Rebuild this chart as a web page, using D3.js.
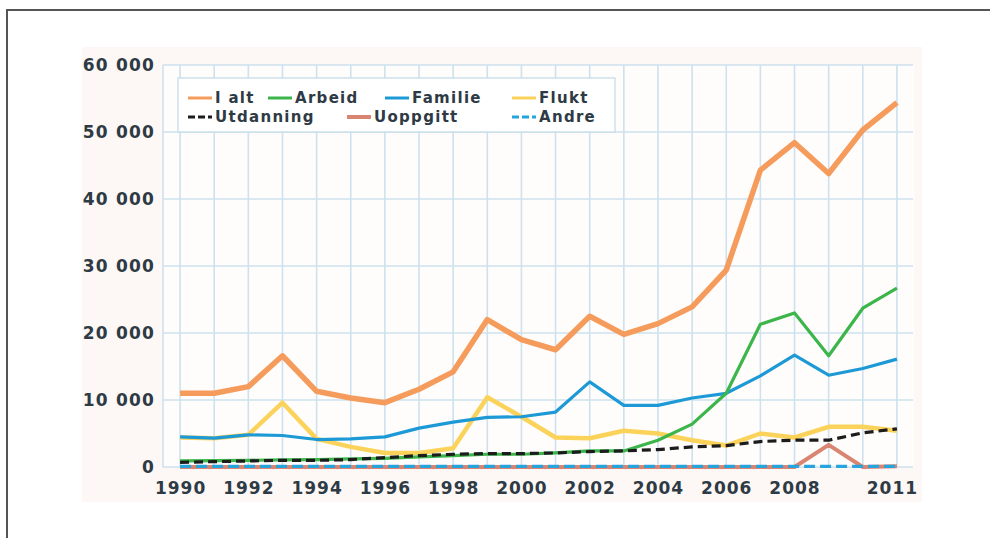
<!DOCTYPE html>
<html>
<head>
<meta charset="utf-8">
<script src="https://cdn.jsdelivr.net/npm/d3@7"></script>
<style>
  body { margin: 0; background: #fff; }
  svg text { font-family: "DejaVu Sans", sans-serif; font-weight: bold; fill: #2e3a44; }
</style>
</head>
<body>
<div class="chart"></div>
<script>
// Innvandring til Norge etter grunn, 1990-2011

var w = 990, h = 538;

// data
var years = d3.range(1990, 2012);
var iAlt      = [11000, 11000, 12000, 16600, 11300, 10300, 9600, 11600, 14200, 22000, 19000, 17500, 22500, 19800, 21400, 23900, 29400, 44300, 48400, 43800, 50300, 54400];
var arbeid    = [900, 950, 1000, 1050, 1100, 1200, 1300, 1500, 1700, 1900, 1900, 2100, 2400, 2400, 4000, 6400, 11000, 21300, 23000, 16600, 23700, 26700];
var familie   = [4500, 4300, 4800, 4700, 4100, 4200, 4500, 5800, 6700, 7400, 7500, 8200, 12700, 9200, 9200, 10300, 11000, 13600, 16700, 13700, 14700, 16100];
var flukt     = [4400, 4300, 4800, 9600, 4200, 3000, 2100, 2100, 2800, 10400, 7500, 4400, 4300, 5400, 5000, 4000, 3200, 5000, 4400, 6000, 6000, 5400];
var utdanning = [700, 800, 900, 1000, 1000, 1100, 1400, 1700, 1900, 2000, 2000, 2100, 2300, 2400, 2600, 3000, 3200, 3800, 4000, 4000, 5100, 5700];
var uoppgitt  = [0, 0, 0, 0, 0, 0, 0, 0, 0, 0, 0, 0, 0, 0, 0, 0, 0, 0, 0, 3300, 0, 100];
var andre     = [100, 100, 100, 100, 100, 100, 100, 100, 100, 100, 100, 100, 100, 100, 100, 100, 100, 100, 100, 100, 100, 100];

var yTicks = [0, 10000, 20000, 30000, 40000, 50000, 60000];
var xTicks = [1990, 1992, 1994, 1996, 1998, 2000, 2002, 2004, 2006, 2008, 2011];

var series = [
  {name: "Flukt",     values: flukt,     color: "#fbd25a", width: 4.5, dash: null},
  {name: "Familie",   values: familie,   color: "#1d9ad6", width: 3.2, dash: null},
  {name: "Arbeid",    values: arbeid,    color: "#3cb54a", width: 3.2, dash: null},
  {name: "Utdanning", values: utdanning, color: "#1c1c1c", width: 3.2, dash: "9,5"},
  {name: "Uoppgitt",  values: uoppgitt,  color: "#d98571", width: 4,   dash: null},
  {name: "Andre",     values: andre,     color: "#27a3de", width: 3.2, dash: "11,5"},
  {name: "I alt",     values: iAlt,      color: "#f59c5c", width: 5.5, dash: null}
];

var legendRows = [
  ["I alt", "Arbeid", "Familie", "Flukt"],
  ["Utdanning", "Uoppgitt", "Andre"]
];

var nb = d3.formatLocale({decimal: ",", thousands: " ", grouping: [3], currency: ["", " kr"]});
var fmt = nb.format(",d");

var x = d3.scaleLinear().domain([1989.5, 2011.5]).range([163, 914]);
var y = d3.scaleLinear().domain([0, 60000]).range([467, 65]);

var svg = d3.select('.chart').append('svg')
  .attr('width', w)
  .attr('height', h);

// page frame
svg.append('path')
  .attr('d', 'M7,538 L7,10 L990,10')
  .attr('fill', 'none')
  .attr('stroke', '#555')
  .attr('stroke-width', 2);

// chart background
svg.append('rect')
  .attr('x', 82).attr('y', 47)
  .attr('width', 840).attr('height', 455)
  .attr('fill', '#fdf8f6');

svg.append('rect')
  .attr('x', x.range()[0]).attr('y', y(60000))
  .attr('width', x.range()[1] - x.range()[0]).attr('height', y(0) - y(60000))
  .attr('fill', '#fffdfc');

// gridlines
var grid = svg.append('g').attr('stroke', '#cde1ee').attr('stroke-width', 1.6);
grid.selectAll('.hgrid')
  .data(yTicks)
  .enter().append('line')
    .attr('x1', x.range()[0]).attr('x2', x.range()[1] - 1)
    .attr('y1', function(d) { return y(d); })
    .attr('y2', function(d) { return y(d); });
grid.selectAll('.vgrid')
  .data(years)
  .enter().append('line')
    .attr('x1', function(d) { return x(d); })
    .attr('x2', function(d) { return x(d); })
    .attr('y1', y(60000)).attr('y2', y(0));
grid.append('line')
  .attr('x1', x.range()[0]).attr('x2', x.range()[0])
  .attr('y1', y(60000)).attr('y2', y(0));

// axes
var yAxis = svg.append('g')
  .attr('transform', 'translate(' + (x.range()[0] - 8) + ',0)')
  .call(d3.axisLeft(y).tickValues(yTicks).tickFormat(fmt).tickSize(0).tickPadding(0));
yAxis.select('.domain').remove();
yAxis.selectAll('text')
  .attr('font-size', 17)
  .attr('letter-spacing', 1.2)
  .attr('font-family', null)
  .attr('fill', null);

var xAxis = svg.append('g')
  .attr('transform', 'translate(0,' + (y(0) + 15) + ')')
  .call(d3.axisBottom(x).tickValues(xTicks).tickFormat(d3.format('d')).tickSize(0).tickPadding(0));
xAxis.select('.domain').remove();
xAxis.selectAll('text')
  .attr('font-size', 17)
  .attr('letter-spacing', 1)
  .attr('font-family', null)
  .attr('fill', null)
  .attr('dx', function(d) { return d === 2011 ? -5 : 0; });

// lines
var line = d3.line()
  .x(function(d, i) { return x(years[i]); })
  .y(function(d) { return y(d); });

svg.append('g').selectAll('path')
  .data(series)
  .enter().append('path')
    .attr('d', function(d) { return line(d.values); })
    .attr('fill', 'none')
    .attr('stroke', function(d) { return d.color; })
    .attr('stroke-width', function(d) { return d.width; })
    .attr('stroke-dasharray', function(d) { return d.dash; })
    .attr('stroke-linejoin', 'round');

// legend
var legend = svg.append('g');
legend.append('rect')
  .attr('x', 178).attr('y', 78)
  .attr('width', 437).attr('height', 54)
  .attr('fill', '#fff')
  .attr('stroke', '#c4dae8')
  .attr('stroke-width', 1.2);

var colX = [[188, 268, 385, 512], [188, 347, 512]];
legendRows.forEach(function(row, r) {
  row.forEach(function(name, c) {
    var s = series.find(function(d) { return d.name === name; });
    var gx = colX[r][c], gy = 98 + r * 19;
    legend.append('line')
      .attr('x1', gx).attr('x2', gx + 24)
      .attr('y1', gy).attr('y2', gy)
      .attr('stroke', s.color)
      .attr('stroke-width', s.name === 'Uoppgitt' ? 4 : 3)
      .attr('stroke-dasharray', s.dash ? '7,3' : null);
    legend.append('text')
      .attr('x', gx + 27).attr('y', gy)
      .attr('dy', '0.36em')
      .attr('font-size', 15)
      .attr('letter-spacing', 1.3)
      .text(name);
  });
});
</script>
</body>
</html>
